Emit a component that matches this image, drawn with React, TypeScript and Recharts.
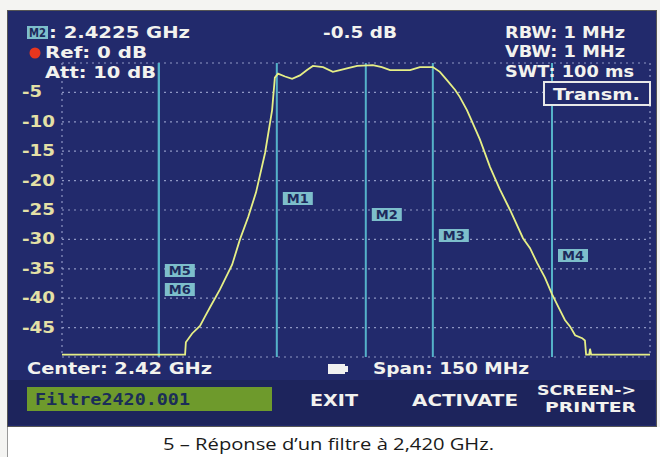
import React from "react";
import { LineChart, Line, XAxis, YAxis, CartesianGrid, ReferenceLine } from "recharts";

// Trace: frequency (MHz) and level (dB)
const freqMHz = [
  2345, 2376.4, 2376.6, 2378.2, 2380.2, 2381.5, 2382.8, 2385.3, 2388.4, 2390.4,
  2392.5, 2394.5, 2396.8, 2398.6, 2399.3, 2400.1, 2401.9, 2403.7, 2405.7, 2407.5,
  2409.0, 2411.6, 2414.1, 2415.9, 2417.7, 2420.3, 2424.3, 2426.6, 2428.7, 2433.8,
  2436.3, 2439.6, 2441.4, 2443.2, 2445.3, 2446.5, 2448.3, 2449.1, 2451.6, 2454.2,
  2456.7, 2459.3, 2462.6, 2464.4, 2466.2, 2468.2, 2470.0, 2472.0, 2473.3, 2474.6,
  2475.9, 2477.7, 2478.4, 2478.7, 2479.5, 2479.7, 2480.0, 2495,
];
const levelDb = [
  -49.6, -49.6, -47.5, -46.0, -44.7, -43.1, -41.5, -38.5, -34.3, -30.0,
  -26.2, -22.0, -15.3, -8.0, -2.5, -1.8, -2.3, -2.7, -2.1, -1.2,
  -0.5, -0.7, -1.5, -1.2, -0.9, -0.5, -0.35, -0.7, -1.2, -1.2,
  -0.7, -0.7, -1.5, -2.9, -4.6, -5.8, -8.0, -9.2, -13.0, -17.7,
  -21.5, -25.0, -29.8, -31.5, -34.0, -36.5, -39.3, -42.0, -43.7, -44.8,
  -46.3, -46.8, -47.2, -49.6, -49.6, -48.6, -49.6, -49.6,
];

const xTicks = [2345, 2360, 2375, 2390, 2405, 2420, 2435, 2450, 2465, 2480, 2495];
const yTicks = [-50, -45, -40, -35, -30, -25, -20, -15, -10, -5, 0];
const yTickLabels = ["-45", "-40", "-35", "-30", "-25", "-20", "-15", "-10", "-5"];

const markerNames = ["M5", "M6", "M1", "M2", "M3", "M4"];
const markerFreqs = [2369.7, 2369.7, 2399.8, 2422.5, 2439.6, 2470.0];
// label box top offset (px from plot top) – styling only
const markerLabelTop = [201, 220, 129, 145, 166, 186];

const data = freqMHz.map((f, i) => ({ f, db: levelDb[i] }));

const NAVY = "#222a6c";
const TXT = "#f2f2ee";
const FONT = "'DejaVu Sans', sans-serif";

const YTick = (props: any) => {
  const { y, payload } = props;
  const label = String(payload.value);
  if (!yTickLabels.includes(label)) return null;
  return (
    <text x={22} y={y + 5} fill="#e4e0a6" fontFamily={FONT} fontWeight="bold" fontSize={15}
      textLength={label.length === 2 ? 20 : 33} lengthAdjust="spacingAndGlyphs">
      {label}
    </text>
  );
};

const markerLabel = (name: string, top: number) => (props: any) => {
  const vb = props.viewBox || {};
  const x = (vb.x ?? 0) + 6;
  const y = (vb.y ?? 0) + top;
  return (
    <g>
      <rect x={x} y={y} width={30} height={13} fill="#7dbecb" />
      <text x={x + 15} y={y + 11} textAnchor="middle" fill="#1d2a5c" fontFamily={FONT}
        fontWeight="bold" fontSize={12} textLength={22} lengthAdjust="spacingAndGlyphs">
        {name}
      </text>
    </g>
  );
};

const T = ({ x, y, w, s = 16, children, fill = TXT, family = FONT }: any) => (
  <text x={x} y={y} fill={fill} fontFamily={family} fontWeight="bold" fontSize={s}
    textLength={w} lengthAdjust="spacingAndGlyphs">
    {children}
  </text>
);

export default function App() {
  return (
    <div style={{ position: "absolute", left: 0, top: 0, width: 660, height: 457, background: "#f4f4f2", overflow: "hidden" }}>
      {/* screen panel */}
      <div style={{ position: "absolute", left: 7, top: 10, width: 648, height: 415, background: NAVY, border: "1px solid #555" }} />
      <div style={{ position: "absolute", left: 8, top: 380, width: 647, height: 45, background: "#1d245c" }} />
      {/* caption strip */}
      <div style={{ position: "absolute", left: 7, top: 427, width: 653, height: 30, background: "#ffffff", borderLeft: "1px solid #999" }} />

      <div style={{ position: "absolute", left: 0, top: 0 }}>
        <LineChart width={660} height={457} data={data} margin={{ top: 63, right: 10, bottom: 100, left: 0 }}>
          <CartesianGrid stroke="#8f97c4" strokeDasharray="2 4" strokeWidth={1.2} />
          <XAxis dataKey="f" type="number" domain={[2345, 2495]} ticks={xTicks} tick={false}
            axisLine={false} tickLine={false} height={0} />
          <YAxis type="number" domain={[-50, 0]} ticks={yTicks} width={62} tick={<YTick />}
            axisLine={false} tickLine={false} interval={0} />
          {markerNames.map((n, i) => (
            <ReferenceLine key={n} x={markerFreqs[i]} stroke="#55b2c9" strokeWidth={2}
              label={markerLabel(n, markerLabelTop[i])} />
          ))}
          <Line type="linear" dataKey="db" stroke="#e6ef86" strokeWidth={1.8} dot={false}
            isAnimationActive={false} />
        </LineChart>
      </div>

      <svg width={660} height={457} style={{ position: "absolute", left: 0, top: 0, pointerEvents: "none" }}>
        {/* header */}
        <rect x={27} y={26} width={21} height={13} fill="#7dbecb" />
        <text x={37.5} y={37} textAnchor="middle" fill="#1d2a5c" fontFamily={FONT} fontWeight="bold" fontSize={12}
          textLength={17} lengthAdjust="spacingAndGlyphs">M2</text>
        <T x={49} y={38} w={141}>: 2.4225 GHz</T>
        <circle cx={35} cy={53} r={5.5} fill="#e8361e" />
        <T x={45} y={58} w={102}>Ref: 0 dB</T>
        <T x={45} y={78} w={111}>Att: 10 dB</T>
        <T x={323} y={38} w={74}>-0.5 dB</T>
        <T x={505} y={38} w={120}>RBW: 1 MHz</T>
        <T x={505} y={57} w={120}>VBW: 1 MHz</T>
        <T x={505} y={77} w={129}>SWT: 100 ms</T>
        <rect x={544} y={82} width={106} height={23} fill={NAVY} stroke="#e8e8e8" strokeWidth={2} />
        <T x={553} y={100} w={87}>Transm.</T>

        {/* footer */}
        <T x={27} y={374} w={185}>Center: 2.42 GHz</T>
        <rect x={328} y={364} width={17} height={10} fill="#f0f0f0" />
        <rect x={345} y={366} width={3} height={6} fill="#f0f0f0" />
        <T x={373} y={374} w={156}>Span: 150 MHz</T>
        <rect x={27} y={387} width={245} height={24} fill="#6e9a2c" />
        <T x={35} y={405} w={155} s={15} fill="#1b2d58" family="'DejaVu Sans Mono', monospace">Filtre2420.001</T>
        <T x={310} y={406} w={48}>EXIT</T>
        <T x={412} y={406} w={106}>ACTIVATE</T>
        <T x={537} y={395} w={99} s={13.5}>SCREEN-&gt;</T>
        <T x={545} y={412} w={91} s={13.5}>PRINTER</T>

        {/* caption */}
        <text x={163} y={450} fill="#1a1a1a" fontFamily="'Open Sans', sans-serif" fontSize={17}
          textLength={331} lengthAdjust="spacingAndGlyphs">5 – Réponse d’un filtre à 2,420 GHz.</text>
      </svg>
    </div>
  );
}
